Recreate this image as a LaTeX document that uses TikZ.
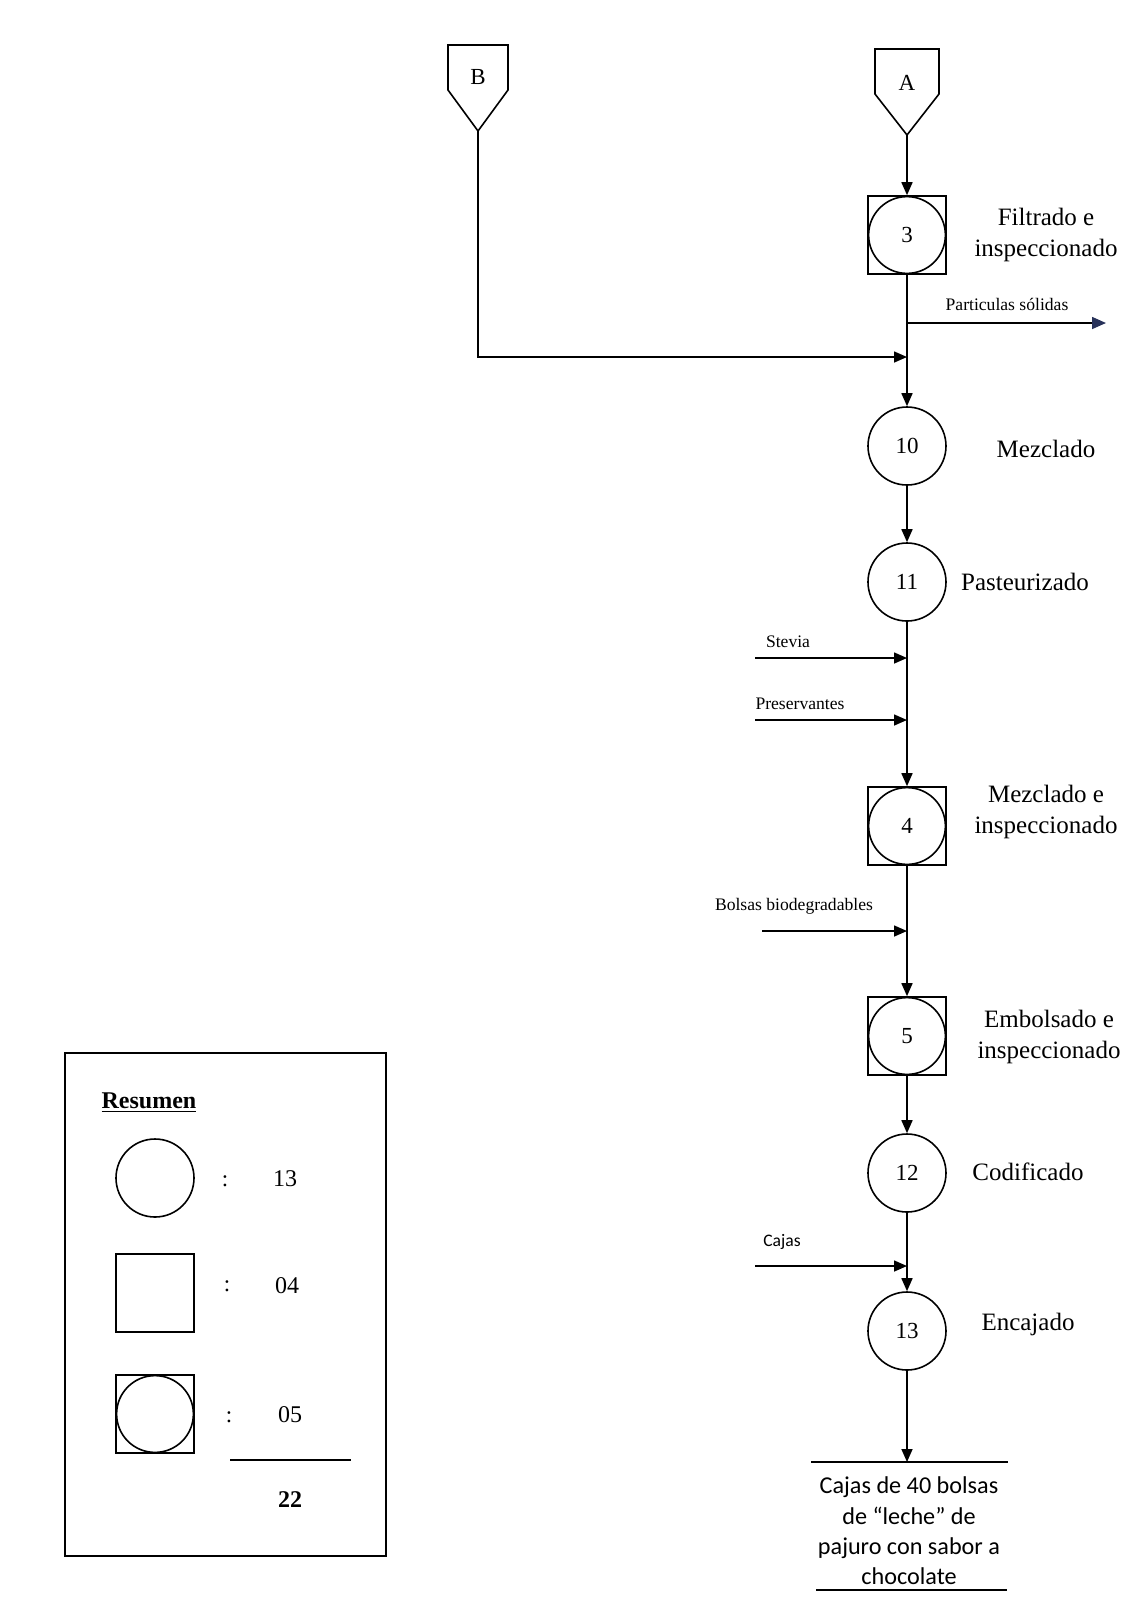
\documentclass[tikz,border=0pt]{standalone}
\usepackage{fontspec}
\setmainfont{Liberation Serif}
\newfontfamily\calibrifont{Carlito}
\usetikzlibrary{arrows.meta}
\definecolor{tipblue}{RGB}{40,50,90}

\begin{document}
\begin{tikzpicture}[x=0.5pt,y=-0.5pt]
    \pgfmathsetmacro{\colx}{907}
    \pgfmathsetmacro{\lw}{0.8}
    \providecommand{\numfontsize}{\fontsize{11.5}{13}\selectfont}
    \providecommand{\labelfontsize}{\fontsize{12.5}{15.5}\selectfont}
    \providecommand{\smallfontsize}{\fontsize{8.8}{10}\selectfont}
    \providecommand{\prodfontsize}{\fontsize{12.1}{15.2}\selectfont}
    \tikzset{
        op/.style={circle,draw,line width=\lw pt,minimum size=39pt,inner sep=0,font=\numfontsize},
        insp/.style={rectangle,draw,line width=\lw pt,minimum size=39pt,inner sep=0},
        opinsp/.style={insp,font=\numfontsize,
            path picture={\draw[line width=\lw pt] (path picture bounding box.center) circle (19.2pt);}},
        flow/.style={line width=\lw pt,-{Triangle[length=6.5pt,width=5.5pt]}},
        steplabel/.style={font=\labelfontsize,align=center},
        inlabel/.style={font=\smallfontsize,inner sep=1pt},
    }
    \useasboundingbox (0,0) rectangle (1132,1603);
    % off-page connectors
    \draw[line width=\lw pt] (448,45) -- (508,45) -- (508,90) -- (478,131) -- (448,90) -- cycle;
    \node[font=\numfontsize] (B) at (478,77) {B};
    \coordinate (Btip) at (478,131);
    \draw[line width=\lw pt] (875,49) -- (939,49) -- (939,94) -- (\colx,135) -- (875,94) -- cycle;
    \node[font=\numfontsize] (A) at (\colx,83) {A};
    \coordinate (Atip) at (\colx,135);
    % process steps
    \node[opinsp] (n3) at (\colx,235) {3};
    \node[op] (n10) at (\colx,446) {10};
    \node[op] (n11) at (\colx,582) {11};
    \node[opinsp] (n4) at (\colx,826) {4};
    \node[opinsp] (n5) at (\colx,1036) {5};
    \node[op] (n12) at (\colx,1173) {12};
    \node[op] (n13) at (\colx,1331) {13};
    \node[steplabel] (l3) at (1046,235) {Filtrado e\\inspeccionado};
    \node[steplabel] (l10) at (1046,449) {Mezclado};
    \node[steplabel] (l11) at (1025,582) {Pasteurizado};
    \node[steplabel] (l4) at (1046,812) {Mezclado e\\inspeccionado};
    \node[steplabel] (l5) at (1049,1037) {Embolsado e\\inspeccionado};
    \node[steplabel] (l12) at (1028,1172) {Codificado};
    \node[steplabel] (l13) at (1028,1324) {Encajado};
    % joins on the main line
    \coordinate (jP) at (\colx,323);
    \coordinate (jB) at (\colx,357);
    \coordinate (jS) at (\colx,658);
    \coordinate (jR) at (\colx,720);
    \coordinate (jBo) at (\colx,931);
    \coordinate (jC) at (\colx,1266);
    \coordinate (prodtop) at (\colx,1462);
    \coordinate (pEnd) at (1106,323);
    \coordinate (sIn) at (755,658);
    \coordinate (rIn) at (755,720);
    \coordinate (boIn) at (762,931);
    \coordinate (cIn) at (755,1266);
    % flow
    \draw[flow] (Atip) -- (n3);
    \draw[line width=\lw pt] (n3) -- (jB);
    \draw[flow] (Btip) |- (jB);
    \draw[flow] (jB) -- (n10);
    \draw[line width=\lw pt,-{Triangle[length=7pt,width=6pt,color=tipblue]}] (jP) -- (pEnd);
    \node[inlabel] (lp) at (1007,304) {Particulas sólidas};
    \draw[flow] (n10) -- (n11);
    \draw[flow] (n11) -- (n4);
    \draw[flow] (sIn) -- (jS);
    \node[inlabel] (ls) at (788,642) {Stevia};
    \draw[flow] (rIn) -- (jR);
    \node[inlabel] (lr) at (800,704) {Preservantes};
    \draw[flow] (n4) -- (n5);
    \draw[flow] (boIn) -- (jBo);
    \node[inlabel] (lbo) at (794,906) {Bolsas biodegradables};
    \draw[flow] (n5) -- (n12);
    \draw[flow] (n12) -- (n13);
    \draw[flow] (cIn) -- (jC);
    \node[inlabel,font=\calibrifont\fontsize{8.8}{10}\selectfont] (lc) at (782,1242) {Cajas};
    \draw[flow] (n13) -- (prodtop);
    % product
    \draw[line width=\lw pt] (811,1462) -- (1008,1462);
    \draw[line width=\lw pt] (816,1590) -- (1007,1590);
    \node[font=\calibrifont\prodfontsize,align=center] (prod) at (909,1531)
        {Cajas de 40 bolsas\\de “leche” de\\pajuro con sabor a\\chocolate};
    % summary
    \draw[line width=\lw pt] (65,1053) rectangle (386,1556);
    \node[font=\bfseries\fontsize{12}{14}\selectfont] (res) at (149,1103) {\underline{Resumen}};
    \node[op] (sOp) at (155,1178) {};
    \node[insp] (sInsp) at (155,1293) {};
    \node[opinsp] (sBoth) at (155,1414) {};
    \node[font=\numfontsize] (c1) at (225,1181) {:};
    \node[font=\numfontsize] (c2) at (227,1286) {:};
    \node[font=\numfontsize] (c3) at (229,1417) {:};
    \node[font=\fontsize{12}{14}\selectfont] (v1) at (285,1179) {13};
    \node[font=\fontsize{12}{14}\selectfont] (v2) at (287,1286) {04};
    \node[font=\fontsize{12}{14}\selectfont] (v3) at (290,1415) {05};
    \draw[line width=\lw pt] (230,1460) -- (351,1460);
    \node[font=\bfseries\fontsize{12}{14}\selectfont] (tot) at (290,1500) {22};
\end{tikzpicture}
\end{document}
